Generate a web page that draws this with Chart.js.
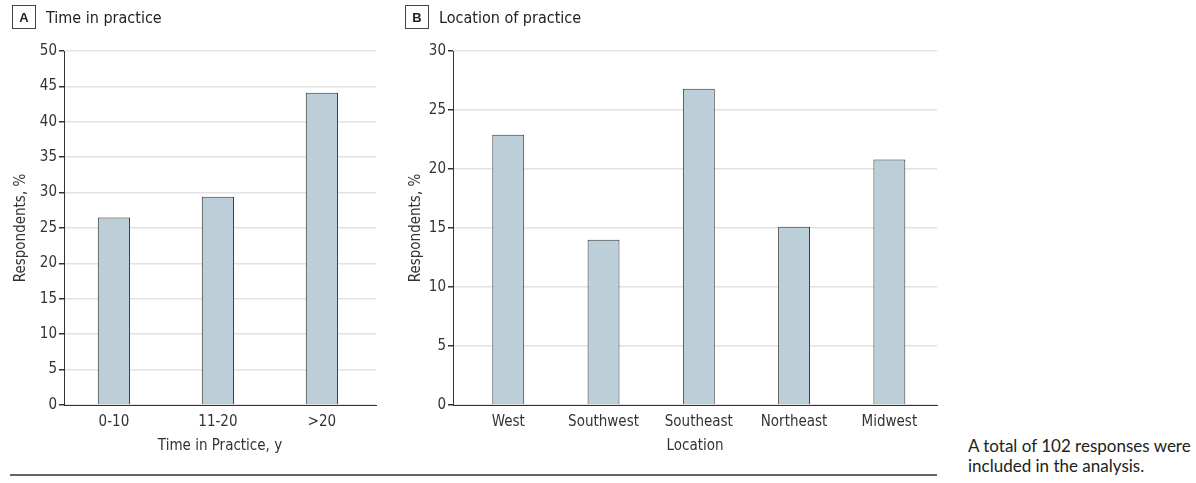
<!DOCTYPE html>
<html>
<head>
<meta charset="utf-8">
<script src="https://cdn.jsdelivr.net/npm/chart.js@4.4.1/dist/chart.umd.min.js"></script>
<style>
  body { margin: 0; background: #fff; width: 1196px; height: 483px; position: relative; overflow: hidden; }
  .wrap { position: absolute; top: 0; height: 462px; }
  .panel-title { position: absolute; top: 5px; height: 24px; font-family: 'Liberation Sans Narrow', 'DejaVu Sans Condensed', sans-serif; font-size: 16px; color: #222; display: flex; align-items: center; }
  .panel-title .box { width: 24px; height: 24px; border: 1px solid #444; box-sizing: border-box; display: inline-flex; align-items: center; justify-content: center; font-family: 'Liberation Sans', Arial, sans-serif; font-weight: bold; font-size: 13px; margin-right: 10px; }
  .rule { position: absolute; left: 10px; top: 474px; width: 927px; height: 2px; background: #666; }
  .note { position: absolute; left: 968px; top: 436px; font-family: Lato, 'Open Sans', sans-serif; font-size: 17px; line-height: 20px; color: #222; white-space: nowrap; }
</style>
</head>
<body>
<div class="wrap" style="left:0;width:390px"><canvas id="graficoTempo"></canvas></div>
<div class="wrap" style="left:390px;width:560px"><canvas id="graficoLocal"></canvas></div>
<div class="panel-title" style="left:12px"><span class="box">A</span>Time in practice</div>
<div class="panel-title" style="left:405px"><span class="box">B</span>Location of practice</div>
<div class="rule"></div>
<div class="note">A total of 102 responses were<br>included in the analysis.</div>
<script>
const categoriasTempo = ['0-10', '11-20', '>20'];
const valoresTempo = [26.5, 29.4, 44.1];
const ticksTempo = [0, 5, 10, 15, 20, 25, 30, 35, 40, 45, 50];

const categoriasLocal = ['West', 'Southwest', 'Southeast', 'Northeast', 'Midwest'];
const valoresLocal = [22.9, 14.0, 26.8, 15.1, 20.8];
const ticksLocal = [0, 5, 10, 15, 20, 25, 30];

const fonte = "'Liberation Sans Narrow', 'DejaVu Sans Condensed', sans-serif";
Chart.defaults.font.family = fonte;
Chart.defaults.color = '#333';

// cfg: posicao do eixo x (min/max), largura da barra, recuo do titulo y, padding direito
function grafico(id, labels, valores, ticks, tituloX, cfg) {
    const ctx = document.getElementById(id).getContext('2d');
    return new Chart(ctx, {
        type: 'bar',
        data: {
            datasets: [{
                data: valores.map((v, i) => ({ x: i, y: v })),
                backgroundColor: '#bccfd8',
                borderColor: '#333',
                borderWidth: 1,
                barPercentage: cfg.barra,
                categoryPercentage: 1
            }]
        },
        options: {
            responsive: false,
            animation: false,
            devicePixelRatio: 1,
            layout: { padding: { left: 0, top: 51, right: cfg.direita, bottom: 0 } },
            plugins: { legend: { display: false }, tooltip: { enabled: false } },
            scales: {
                x: {
                    type: 'linear',
                    offset: false,
                    min: cfg.min,
                    max: cfg.max,
                    afterBuildTicks: s => { s.ticks = labels.map((l, i) => ({ value: i })); },
                    grid: { display: false, drawTicks: false },
                    border: { display: true, color: '#333', width: 1 },
                    ticks: { padding: 8, font: { size: 15 }, color: '#333', callback: v => labels[v] },
                    title: { display: true, text: tituloX, font: { size: 15 }, color: '#333', padding: { top: 0, bottom: 7 } },
                    afterFit: s => { s.height = 57; }
                },
                y: {
                    min: 0,
                    max: ticks[ticks.length - 1],
                    afterBuildTicks: s => { s.ticks = ticks.map(v => ({ value: v })); },
                    grid: { color: '#e2e2e2', lineWidth: 1.5, tickColor: '#333', tickLength: 5, drawTicks: true },
                    border: { display: true, color: '#333', width: 1 },
                    ticks: { padding: 2, font: { size: 15 }, color: '#333' },
                    title: { display: true, text: 'Respondents, %', font: { size: 15 }, color: '#333', padding: { top: cfg.tituloY, bottom: 0 } },
                    afterFit: s => { s.width = cfg.eixo; }
                }
            }
        }
    });
}

function preparar(id, w) {
    const c = document.getElementById(id);
    c.width = w; c.height = 462;
    c.style.width = w + 'px'; c.style.height = '462px';
}

preparar('graficoTempo', 390);
preparar('graficoLocal', 560);
grafico('graficoTempo', categoriasTempo, valoresTempo, ticksTempo, 'Time in Practice, y',
    { min: -0.48, max: 2.52, barra: 0.31, tituloY: 12, direita: 14, eixo: 64 });
grafico('graficoLocal', categoriasLocal, valoresLocal, ticksLocal, 'Location',
    { min: -0.58, max: 4.5, barra: 0.335, tituloY: 17, direita: 13, eixo: 63 });
</script>
</body>
</html>
